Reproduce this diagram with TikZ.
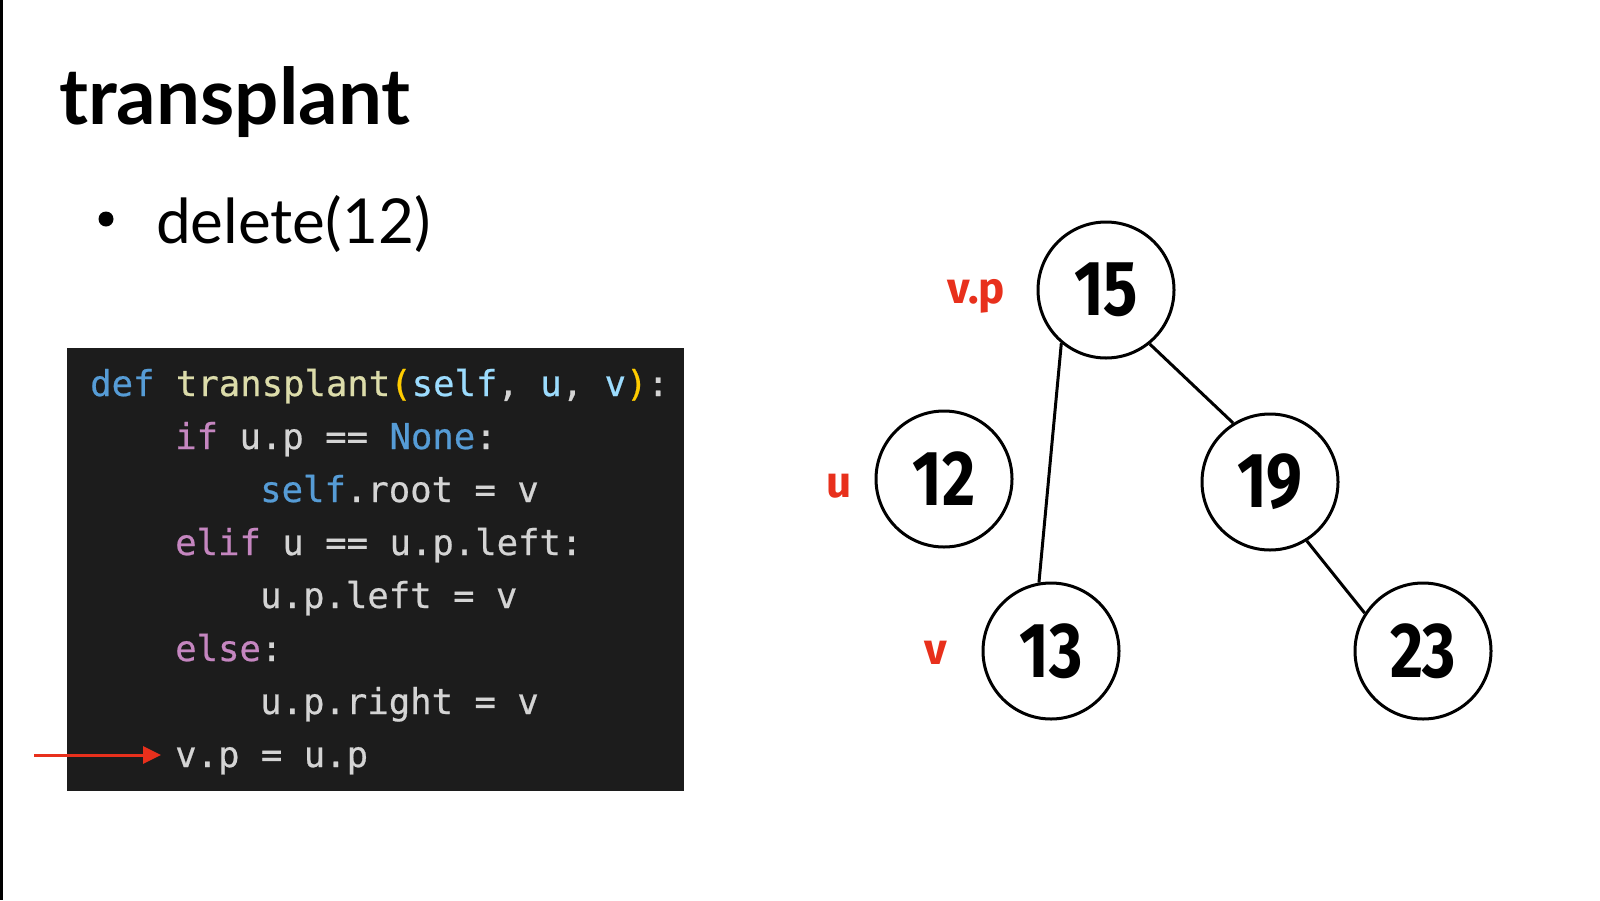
\documentclass[tikz,border=0pt]{standalone}
\usepackage{fontspec}
\setmainfont{Lato}
\newfontfamily\codefont[FakeBold=0.6]{DejaVu Sans Mono}
\newfontfamily\treefont{Fira Sans}
\definecolor{codebg}{HTML}{1C1C1C}
\definecolor{plain}{HTML}{D4D4D4}
\definecolor{kwblue}{HTML}{569CD6}
\definecolor{fnyel}{HTML}{DCDCAA}
\definecolor{gold}{HTML}{FFCC00}
\definecolor{param}{HTML}{9CDCFE}
\definecolor{kwpur}{HTML}{C586C0}
\definecolor{redmark}{HTML}{E8301C}
\usetikzlibrary{arrows.meta}
\tikzset{
  codeline/.style={anchor=base west, inner sep=0pt, text=plain, font=\codefont\fontsize{35.6}{42}\selectfont},
  treenode/.style={circle, draw=black, line width=3pt, minimum size=136pt, inner sep=0pt, fill=white,
    font=\treefont\bfseries\fontsize{78}{90}\selectfont},
  treeedge/.style={line width=3pt, black},
  redlabel/.style={anchor=base, inner sep=0pt, text=redmark, font=\treefont\bfseries\fontsize{44}{52}\selectfont},
  pointer/.style={redmark, line width=3pt, -{Triangle[length=18pt,width=17pt]}}
}
\newcommand{\treenum}[1]{\scalebox{0.82}[1]{#1}}
\begin{document}
\begin{tikzpicture}[x=1pt,y=-1pt]
\useasboundingbox (0,0) rectangle (1600,900);
\fill[white] (0,0) rectangle (1600,900);
\fill[black] (0,0) rectangle (2.5,900);
% title and bullet
\node[anchor=base west, inner sep=0pt, font=\fontsize{78}{90}\selectfont\bfseries] (title) at (59,124) {transplant};
\node[circle, fill=black, inner sep=0pt, minimum size=15pt] (bullet) at (106,219) {};
\node[anchor=base west, inner sep=0pt, font=\fontsize{62}{72}\selectfont] (sub) at (156,243) {delete(12)};
% code box
\fill[codebg] (67,348) rectangle (684,791);
\node[codeline] (c1) at (90,396) {\textcolor{kwblue}{def} \textcolor{fnyel}{transplant}\textcolor{gold}{(}\textcolor{param}{self}, \textcolor{param}{u}, \textcolor{param}{v}\textcolor{gold}{)}:};
\node[codeline] (c2) at (175,449) {\textcolor{kwpur}{if} u.p == \textcolor{kwblue}{None}:};
\node[codeline] (c3) at (260,502) {\textcolor{kwblue}{self}.root = v};
\node[codeline] (c4) at (175,555) {\textcolor{kwpur}{elif} u == u.p.left:};
\node[codeline] (c5) at (260,608) {u.p.left = v};
\node[codeline] (c6) at (175,661) {\textcolor{kwpur}{else}:};
\node[codeline] (c7) at (260,714) {u.p.right = v};
\node[codeline] (c8) at (175,767) {v.p = u.p};
\coordinate (ptail) at (34,755);
\coordinate (phead) at (161,755);
\draw[pointer] (ptail) -- (phead);
% tree
\node[treenode] (n15) at (1106,290) {\treenum{15}};
\node[treenode] (n12) at (944,479) {\treenum{12}};
\node[treenode] (n19) at (1270,482) {\treenum{19}};
\node[treenode] (n13) at (1051,651) {\treenum{13}};
\node[treenode] (n23) at (1423,651) {\treenum{23}};
\draw[treeedge] (n15.230) -- (n13.100);
\draw[treeedge] (n15.-51) -- (n19.122);
\draw[treeedge] (n19.-58) -- (n23.147);
\node[redlabel] (lvp) at (976,303) {v.p};
\node[redlabel] (lu) at (839,497) {u};
\node[redlabel] (lv) at (936,664) {v};
\end{tikzpicture}
\end{document}
